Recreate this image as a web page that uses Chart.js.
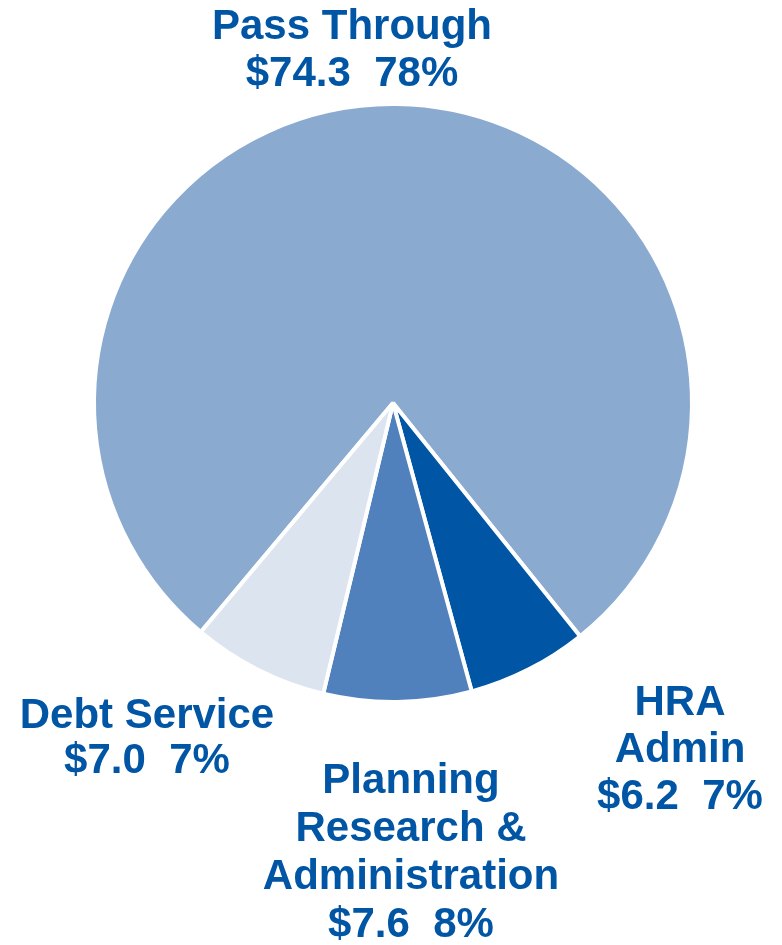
<!DOCTYPE html>
<html>
<head>
<meta charset="utf-8">
<script src="https://cdn.jsdelivr.net/npm/chart.js@4"></script>
<style>
  html, body { margin: 0; padding: 0; background: #fff; }
  #wrap { width: 782px; height: 945px; position: relative; }
</style>
</head>
<body>
<div id="wrap"><canvas id="budgetPie"></canvas></div>
<script>
// Budget split ($ millions)
const categories = ['Pass Through', 'HRA Admin', 'Planning Research & Administration', 'Debt Service'];
const amounts = [74.3, 6.2, 7.6, 7.0];
const sliceColors = ['#8aaad0', '#0055a5', '#5081bd', '#dce4f0'];

// label lines shown around the pie (the money/percent line is added from the data)
const labelLines = [
    ['Pass Through'],
    ['HRA', 'Admin'],
    ['Planning', 'Research &', 'Administration'],
    ['Debt Service']
];

const total = amounts.reduce((a, b) => a + b, 0);

// Where each label block sits: center x and first baseline
const labelSpots = [
    { x: 352, y: 39, gap: 47 },
    { x: 680, y: 715, gap: 47 },
    { x: 411, y: 793, gap: 48 },
    { x: 147, y: 728, gap: 45 }
];

const sliceLabels = {
    id: 'sliceLabels',
    afterDraw(chart) {
        const ctx = chart.ctx;
        ctx.save();
        ctx.fillStyle = '#0055a5';
        ctx.font = 'bold 42px "Liberation Sans", Arial, sans-serif';
        ctx.textAlign = 'center';
        ctx.textBaseline = 'alphabetic';
        amounts.forEach((v, i) => {
            const pct = Math.round(v / total * 100);
            const lines = labelLines[i].concat(['$' + v.toFixed(1) + '\u00a0\u00a0' + pct + '%']);
            const spot = labelSpots[i];
            lines.forEach((t, j) => ctx.fillText(t, spot.x, spot.y + j * spot.gap));
        });
        ctx.restore();
    }
};

new Chart(document.getElementById('budgetPie'), {
    type: 'pie',
    data: {
        labels: categories,
        datasets: [{
            data: amounts,
            backgroundColor: sliceColors,
            borderColor: '#ffffff',
            borderWidth: 4
        }]
    },
    options: {
        responsive: true,
        maintainAspectRatio: false,
        animation: false,
        rotation: 220,
        layout: { padding: { left: 92, right: 88, top: 102, bottom: 241 } },
        plugins: {
            legend: { display: false },
            tooltip: { enabled: false }
        }
    },
    plugins: [sliceLabels]
});
</script>
</body>
</html>
